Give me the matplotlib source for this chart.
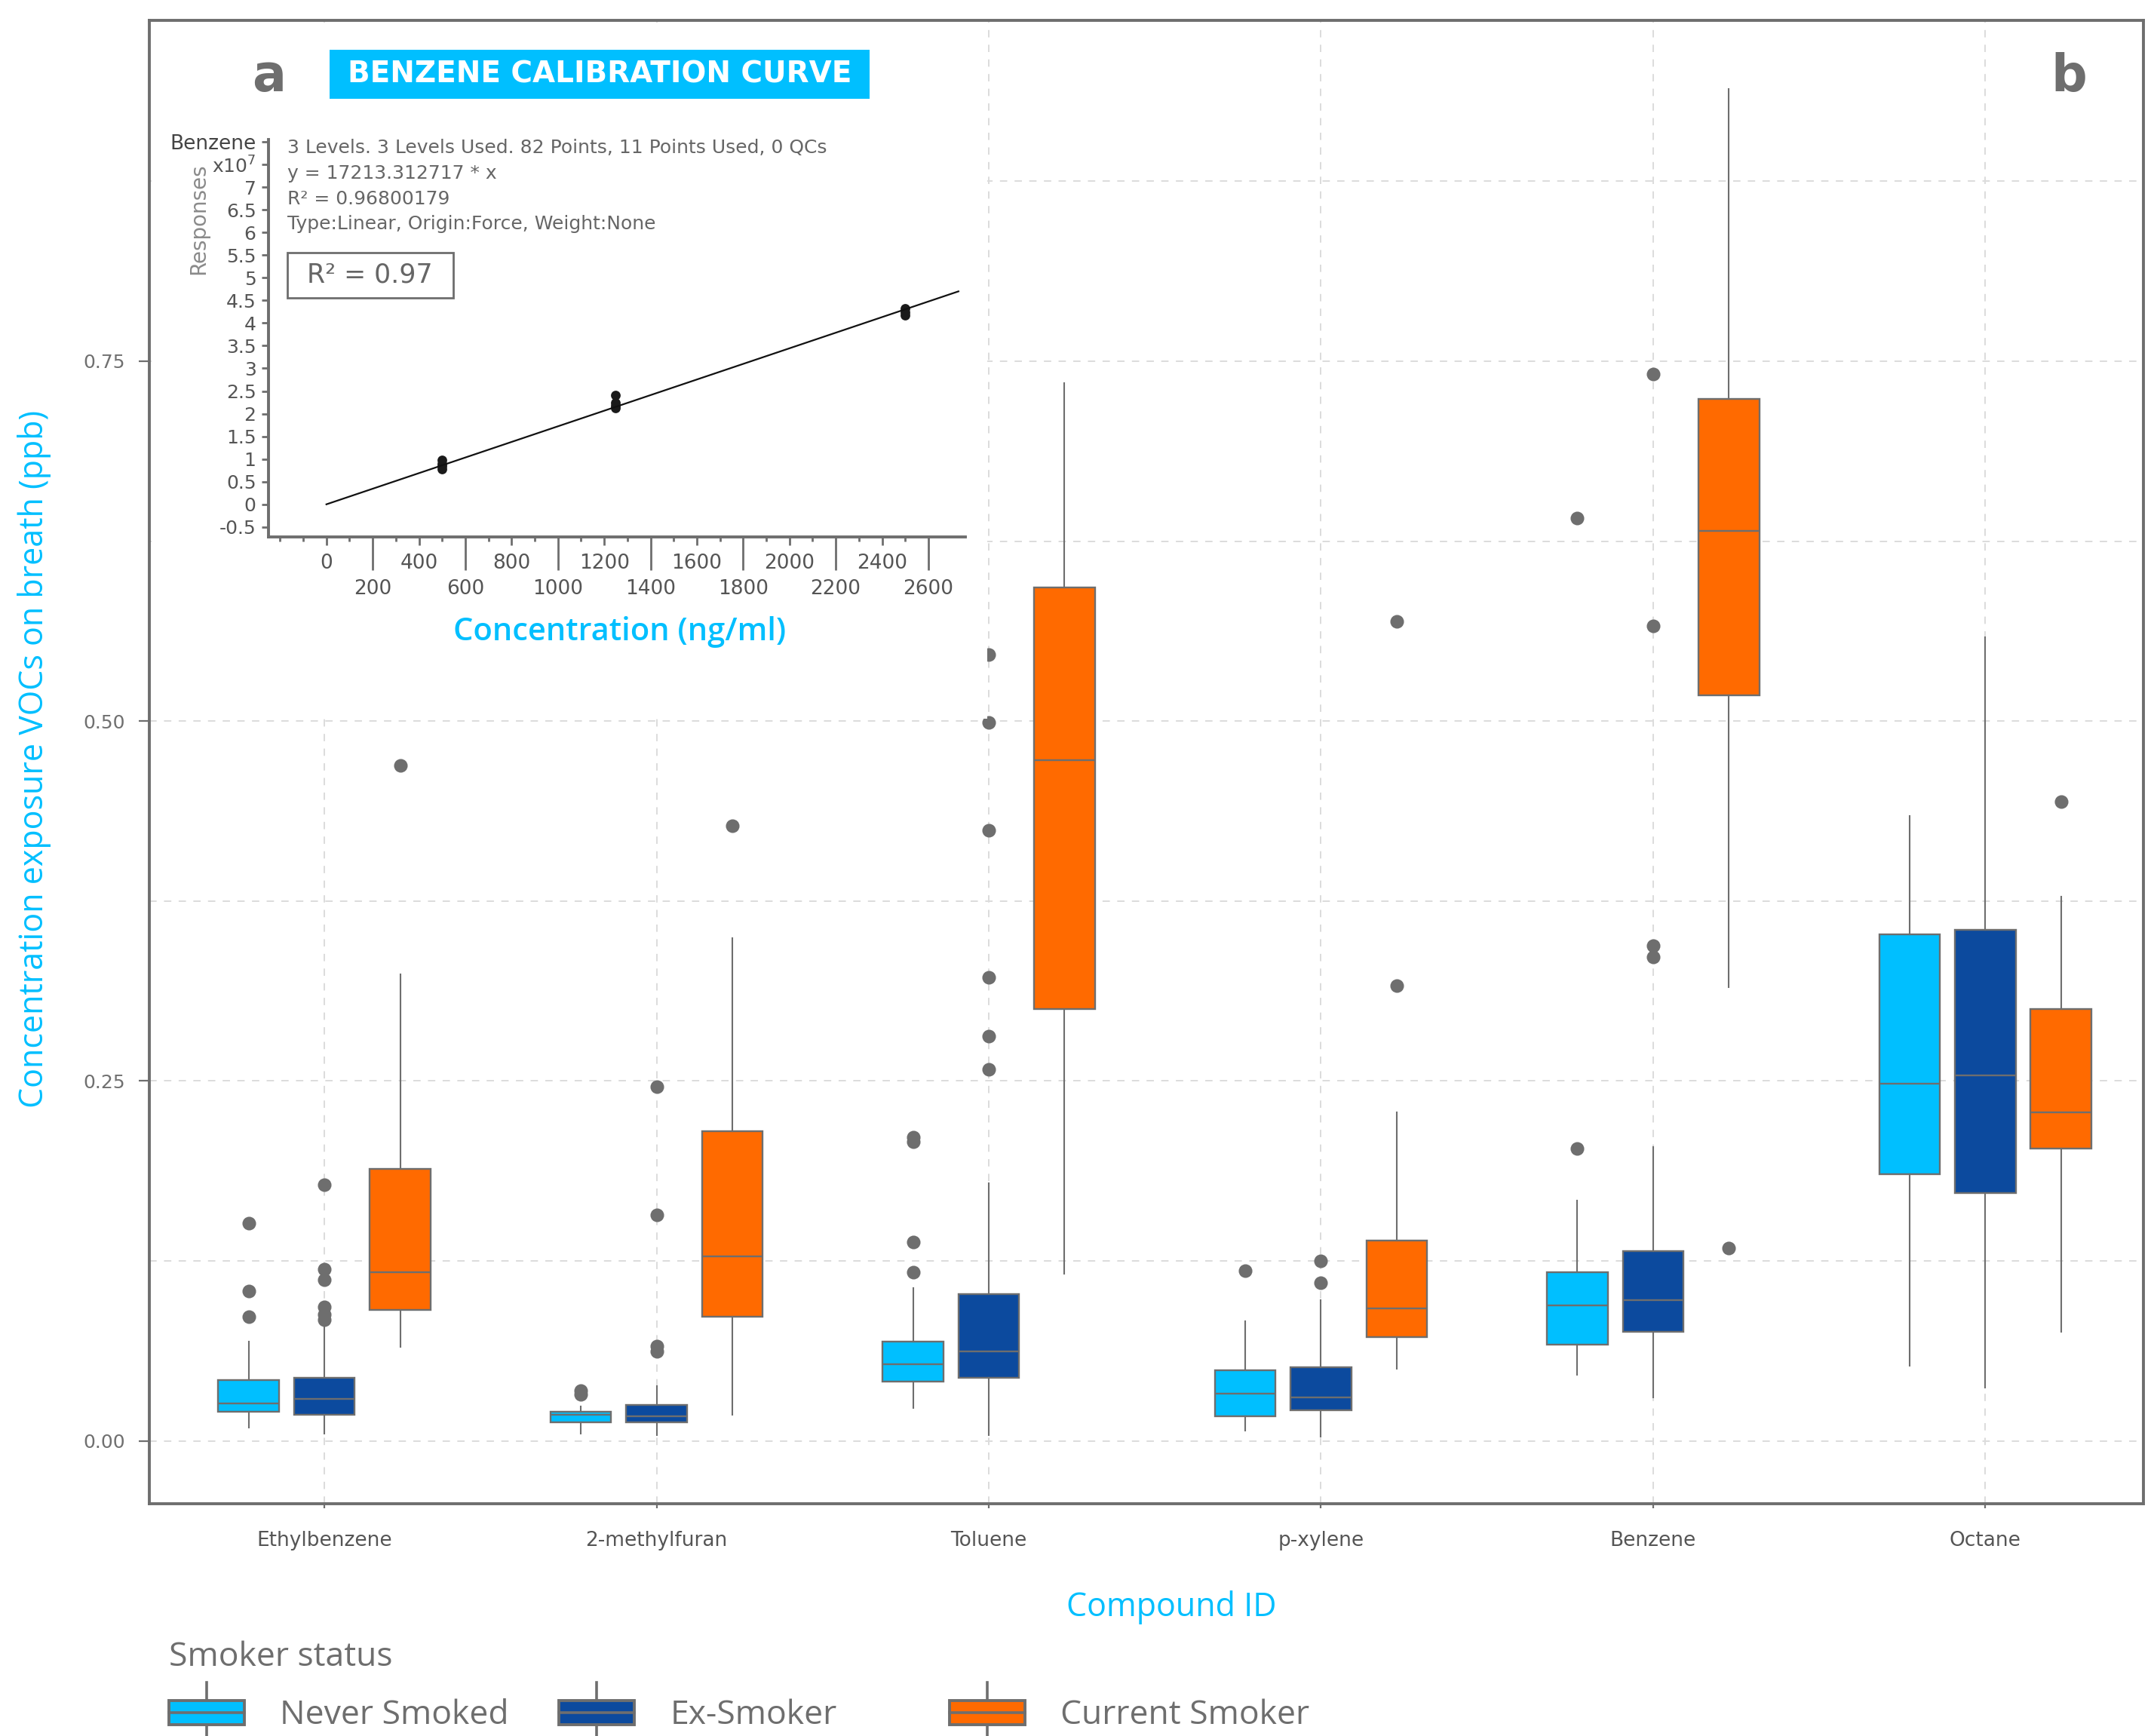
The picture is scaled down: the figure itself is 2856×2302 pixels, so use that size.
import numpy as np
import matplotlib
matplotlib.use("Agg")
from matplotlib import pyplot as plt
from matplotlib.patches import Rectangle, Patch
from matplotlib.lines import Line2D
from matplotlib.legend_handler import HandlerBase

GRAY = "#6E6E6E"
CYAN = "#00BFFF"

compounds = ["Ethylbenzene", "2-methylfuran", "Toluene", "p-xylene", "Benzene", "Octane"]
groups = ["Never Smoked", "Ex-Smoker", "Current Smoker"]
group_colors = ["#00BFFF", "#0C4A9E", "#FF6A00"]

# (lower whisker, Q1, median, Q3, upper whisker) per compound, in ppb
never_stats = [
    (0.009, 0.020, 0.026, 0.042, 0.069),
    (0.005, 0.013, 0.018, 0.020, 0.024),
    (0.023, 0.041, 0.053, 0.069, 0.106),
    (0.007, 0.017, 0.033, 0.049, 0.083),
    (0.046, 0.067, 0.094, 0.117, 0.167),
    (0.052, 0.185, 0.248, 0.352, 0.434),
]
never_fliers = [
    [0.086, 0.104, 0.151],
    [0.032, 0.035],
    [0.117, 0.138, 0.208, 0.211],
    [0.118],
    [0.203, 0.641],
    [],
]
ex_stats = [
    (0.005, 0.018, 0.029, 0.044, 0.079),
    (0.004, 0.013, 0.017, 0.025, 0.038),
    (0.004, 0.044, 0.062, 0.102, 0.179),
    (0.003, 0.021, 0.030, 0.051, 0.098),
    (0.030, 0.076, 0.098, 0.132, 0.204),
    (0.037, 0.172, 0.254, 0.355, 0.558),
]
ex_fliers = [
    [0.084, 0.088, 0.093, 0.112, 0.119, 0.178],
    [0.062, 0.066, 0.157, 0.246],
    [0.258, 0.281, 0.322, 0.424, 0.499, 0.546],
    [0.110, 0.125],
    [0.336, 0.344, 0.566, 0.741],
    [],
]
current_stats = [
    (0.065, 0.091, 0.117, 0.189, 0.324),
    (0.018, 0.086, 0.128, 0.215, 0.349),
    (0.116, 0.300, 0.473, 0.593, 0.735),
    (0.050, 0.072, 0.092, 0.139, 0.228),
    (0.315, 0.518, 0.632, 0.724, 0.939),
    (0.076, 0.203, 0.228, 0.300, 0.378),
]
current_fliers = [
    [0.469],
    [0.427],
    [],
    [0.316, 0.569],
    [0.134],
    [0.444],
]

y_ticks = [0.0, 0.25, 0.5, 0.75]
y_minor = [0.125, 0.375, 0.625, 0.875]

# benzene calibration (responses in units of 1e7)
cal_levels = [500, 1250, 2500]
cal_responses = [[0.78, 0.84, 0.90, 0.97], [2.12, 2.17, 2.24, 2.41], [4.17, 4.24, 4.33]]
cal_slope = 17213.312717
cal_r2 = 0.96800179
cal_fit_x = np.array([0, 2730])
resp_ticks = np.arange(-0.5, 8.01, 0.5)
conc_upper = np.arange(0, 2401, 400)
conc_lower = np.arange(200, 2601, 400)
conc_short = [-200, -100] + list(range(100, 2600, 200))
info_lines = [
    "3 Levels. 3 Levels Used. 82 Points, 11 Points Used, 0 QCs",
    "y = {:.6f} * x".format(cal_slope),
    "R\u00b2 = {:.8f}".format(cal_r2),
    "Type:Linear, Origin:Force, Weight:None",
]


class BoxKey(HandlerBase):
    def create_artists(self, legend, orig_handle, xdescent, ydescent,
                       width, height, fontsize, trans):
        x0, y0 = -xdescent, -ydescent
        xc = x0 + width / 2
        ext = 0.72 * height
        kw = dict(color=GRAY, lw=1.3, transform=trans)
        top = Line2D([xc, xc], [y0 + height, y0 + height + ext], **kw)
        bot = Line2D([xc, xc], [y0, y0 - ext], **kw)
        rect = Rectangle((x0, y0), width, height, facecolor=orig_handle.get_facecolor(),
                         edgecolor=GRAY, lw=1.4, transform=trans)
        med = Line2D([x0, x0 + width], [y0 + height / 2] * 2, **kw)
        return [top, bot, rect, med]


fig = plt.figure(figsize=(14.28, 11.51), dpi=200)
ax = fig.add_axes([0.06933, 0.13380, 0.92577, 0.85435])

pos = np.arange(1, len(compounds) + 1)
offset = 0.228
box_w = 0.183
all_stats = [never_stats, ex_stats, current_stats]
all_fliers = [never_fliers, ex_fliers, current_fliers]
for gi, (stats, fliers, color) in enumerate(zip(all_stats, all_fliers, group_colors)):
    bstats = []
    for (lo, q1, med, q3, hi), fl in zip(stats, fliers):
        bstats.append(dict(whislo=lo, q1=q1, med=med, q3=q3, whishi=hi, fliers=fl))
    ax.bxp(bstats, positions=pos + (gi - 1) * offset, widths=box_w,
           patch_artist=True, showcaps=False, manage_ticks=False,
           boxprops=dict(facecolor=color, edgecolor=GRAY, linewidth=0.85),
           medianprops=dict(color=GRAY, linewidth=0.85),
           whiskerprops=dict(color=GRAY, linewidth=0.75),
           flierprops=dict(marker="o", markerfacecolor=GRAY, markeredgecolor=GRAY,
                           markersize=5.5))

ax.set_xlim(0.473, 6.476)
ax.set_ylim(-0.0437, 0.9866)
ax.set_xticks(pos, compounds)
ax.set_yticks(y_ticks, ["{:.2f}".format(v) for v in y_ticks])
ax.set_yticks(y_minor, minor=True)
grid_kw = dict(color="#DCDCDC", linewidth=0.7, linestyle=(0, (5, 5)))
ax.grid(True, which="both", axis="y", **grid_kw)
ax.grid(True, which="major", axis="x", **grid_kw)
ax.set_axisbelow(True)
ax.tick_params(axis="y", which="major", length=5, width=0.8, color=GRAY,
               labelsize=9, labelcolor="#707070", pad=6.5)
ax.tick_params(axis="y", which="minor", length=0)
ax.tick_params(axis="x", length=2, width=0.8, color=GRAY,
               labelsize=9.5, labelcolor="#555555", pad=11)
for s in ax.spines.values():
    s.set_color(GRAY)
    s.set_linewidth(1.4)

ax.set_xlabel("Compound ID", color=CYAN, fontsize=15.5, family="Open Sans")
ax.xaxis.set_label_coords(0.5127, -0.0697)
ax.xaxis.label.set_va("center")
ax.set_ylabel("Concentration exposure VOCs on breath (ppb)", color=CYAN,
              fontsize=15.5, family="Open Sans")
ax.yaxis.set_label_coords(-0.0575, 0.502)
ax.yaxis.label.set_va("center")

# white panel holding the calibration inset
fig.add_artist(Rectangle((0.07038, 0.58601), 0.38796, 0.40096, transform=fig.transFigure,
                         facecolor="white", edgecolor="none", zorder=1))

ax_in = fig.add_axes([0.12455, 0.69070, 0.32364, 0.22893])
ax_in.set_zorder(2)
for lvl, resp in zip(cal_levels, cal_responses):
    ax_in.plot([lvl] * len(resp), resp, "o", color="#1A1A1A", markersize=3.6)
ax_in.plot(cal_fit_x, cal_slope * cal_fit_x / 1e7, color="#111111", lw=0.8)
ax_in.set_xlim(-251, 2760)
ax_in.set_ylim(-0.72, 8.05)
ax_in.spines["top"].set_visible(False)
ax_in.spines["right"].set_visible(False)
for side in ["left", "bottom"]:
    ax_in.spines[side].set_color(GRAY)
    ax_in.spines[side].set_linewidth(1.4)

resp_labels = ["{:g}".format(v) for v in resp_ticks[:-2]] + ["x10$^7$", "Benzene"]
ax_in.set_yticks(resp_ticks, resp_labels)
ax_in.tick_params(axis="y", length=3.3, width=1, color=GRAY, labelsize=9,
                  labelcolor="#555555", pad=2.5)
lbls = ax_in.get_yticklabels()
lbls[-1].set_color("#444444")
lbls[-1].set_fontsize(9.5)

ax_in.set_xticks(conc_upper, [str(v) for v in conc_upper])
ax_in.set_xticks(conc_lower, [str(v) for v in conc_lower], minor=True)
ax_in.tick_params(axis="x", which="major", length=4, width=1, color=GRAY,
                  labelsize=9.5, labelcolor="#555555", pad=4)
ax_in.tick_params(axis="x", which="minor", length=16, width=1, color=GRAY,
                  labelsize=9.5, labelcolor="#555555", pad=4)
sec = ax_in.secondary_xaxis("bottom")
sec.set_xticks(conc_short)
sec.tick_params(length=2.2, width=1, color=GRAY, labelbottom=False)
sec.spines["bottom"].set_visible(False)

ax_in.set_ylabel("Responses", fontsize=10, color="#8A8A8A")
ax_in.yaxis.set_label_coords(-0.1003, 0.80)
ax_in.yaxis.label.set_va("center")
ax_in.set_xlabel("Concentration (ng/ml)", color=CYAN, fontsize=15, family="Open Sans",
                 fontweight="semibold")
ax_in.xaxis.set_label_coords(0.5036, -0.239)
ax_in.xaxis.label.set_va("center")

for i, line in enumerate(info_lines):
    ax_in.text(0.0274, 0.979 - i * 0.064, line, transform=ax_in.transAxes,
               fontsize=9, color="#666666", va="center", ha="left")
ax_in.add_patch(Rectangle((0.027, 0.6015), 0.2388, 0.1146, transform=ax_in.transAxes,
                          fill=False, edgecolor=GRAY, lw=1.0, clip_on=False))
ax_in.text(0.146, 0.659, "R\u00b2 = {:.2f}".format(cal_r2), transform=ax_in.transAxes,
           fontsize=12.5, color="#666666", ha="center", va="center")

# panel letters and inset title
fig.text(0.125, 0.9557, "a", fontsize=24, fontweight="bold", color=GRAY,
         ha="center", va="center", zorder=4)
fig.text(0.9604, 0.9557, "b", fontsize=24, fontweight="bold", color=GRAY,
         ha="center", va="center", zorder=4)
fig.add_artist(Rectangle((0.15301, 0.94309), 0.2507, 0.02824, transform=fig.transFigure,
                         facecolor=CYAN, edgecolor="none", zorder=3))
fig.text(0.27836, 0.95721, "BENZENE CALIBRATION CURVE", color="white", fontsize=14,
         fontweight="bold", ha="center", va="center", zorder=4)

# legend along the bottom
fig.text(0.0784, 0.04518, "Smoker status", fontsize=16, color=GRAY,
         family="Open Sans", va="center", ha="left")
legend_x = [0.0784, 0.2596, 0.4407]
for g, color, x in zip(groups, group_colors, legend_x):
    fig.legend(handles=[Patch(facecolor=color)], labels=[g], loc="center left",
               bbox_to_anchor=(x, 0.0117), frameon=False,
               handler_map={Patch: BoxKey()}, prop={"family": "Open Sans", "size": 16},
               labelcolor=GRAY, handlelength=2.25, handleheight=0.74,
               handletextpad=1.07, borderpad=0, borderaxespad=0)

fig.savefig("out.png", dpi=200)
